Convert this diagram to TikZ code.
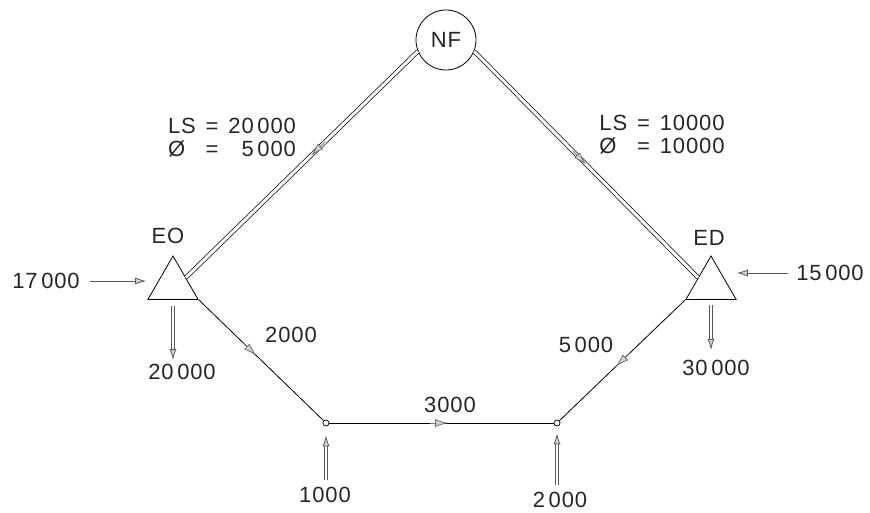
\documentclass[tikz,border=0pt]{standalone}
\usepackage{fontspec}
\setmainfont{Liberation Sans}[LetterSpace=4]
\usetikzlibrary{shapes.geometric,arrows.meta,calc}
\begin{document}
\begin{tikzpicture}[x=1pt,y=-1pt,
  every node/.style={font=\fontsize{22}{23}\selectfont, text=black!85},
  lbl/.style={inner sep=0pt},
  tri/.style={regular polygon, regular polygon sides=3, draw, line width=0.8pt, minimum size=58pt, inner sep=0pt},
  junc/.style={circle, draw, line width=0.7pt, minimum size=6pt, inner sep=0pt},
  pipe/.style={draw, line width=0.7pt, double, double distance=3pt},
  link/.style={draw, line width=0.8pt},
  tip/.style={draw=gray!90!black, line width=0.8pt, -{Latex[length=13pt,width=8pt,fill=gray!35]}},
  flow/.style={draw=gray!70!black, line width=0.8pt, -{Latex[length=11pt,width=7pt,fill=gray!35]}},
  vflow/.style={flow, double, double distance=2pt}
]
\useasboundingbox (0,0) rectangle (870,513);

% main nodes
\node[circle, draw, line width=0.8pt, minimum size=60pt, inner sep=0pt] (NF) at (446,40) {NF};
\node[tri] (EO) at (173,285) {};
\node[tri] (ED) at (711,285) {};
\node[lbl] (tEO) at (168,236) {EO};
\node[lbl] (tED) at (709,238) {ED};
\node[junc] (A) at (326,423) {};
\node[junc] (B) at (557,423) {};

% pipes from NF
\draw[pipe] (NF.202) -- coordinate[pos=0.40] (m1a) coordinate[pos=0.46] (m1b) (EO.side 3);
\draw[tip] (m1a) -- (m1b);
\draw[pipe] (NF.338) -- coordinate[pos=0.44] (m2a) coordinate[pos=0.50] (m2b) (ED.side 1);
\draw[tip] (m2a) -- (m2b);

% lower network
\draw[link] (EO.corner 3) -- coordinate[pos=0.36] (m3a) coordinate[pos=0.46] (m3b) (A);
\draw[tip] (m3a) -- (m3b);
\draw[link] (A) -- coordinate[pos=0.45] (m4a) coordinate[pos=0.53] (m4b) (B);
\draw[tip] (m4a) -- (m4b);
\draw[link] (B) -- coordinate[pos=0.55] (m5a) coordinate[pos=0.45] (m5b) (ED.corner 2);
\draw[tip] (m5a) -- (m5b);

% pipe labels
\node[lbl] (lsL) at (232,140) {\begin{tabular}{@{}l@{\hspace{0.45em}=\hspace{0.45em}}r@{}}LS & 20\,000\\ Ø & 5\,000\end{tabular}};
\node[lbl] (lsR) at (662,137) {\begin{tabular}{@{}l@{\hspace{0.45em}=\hspace{0.45em}}r@{}}LS & 10000\\ Ø & 10000\end{tabular}};

% edge labels
\node[lbl] (l2000) at (291,335) {2000};
\node[lbl] (l3000) at (450,405) {3000};
\node[lbl] (l5000) at (586,345) {5\,000};

% inflows / outflows
\node[lbl] (l17) at (46,281) {17\,000};
\draw[flow, shorten <=10pt, shorten >=1pt] (l17.east) -- (l17.east -| EO.corner 2);
\node[lbl] (l15) at (830,273) {15\,000};
\draw[flow, shorten <=8pt] (l15.west) -- (l15.west -| ED.corner 3);

\node[lbl] (l20) at (182,372) {20\,000};
\draw[vflow, shorten <=6pt, shorten >=4pt] (EO.south) -- (EO.south |- l20.north);
\node[lbl] (l30) at (716,368) {30\,000};
\draw[vflow, shorten <=5pt, shorten >=10pt] (ED.south) -- (ED.south |- l30.north);

\node[lbl] (l1) at (325,495) {1000};
\draw[vflow, shorten <=7pt, shorten >=9pt] (l1.north -| A) -- (A.south);
\node[lbl] (l2) at (560,500) {2\,000};
\draw[vflow, shorten <=7pt, shorten >=7pt] (l2.north -| B) -- (B.south);
\end{tikzpicture}
\end{document}
